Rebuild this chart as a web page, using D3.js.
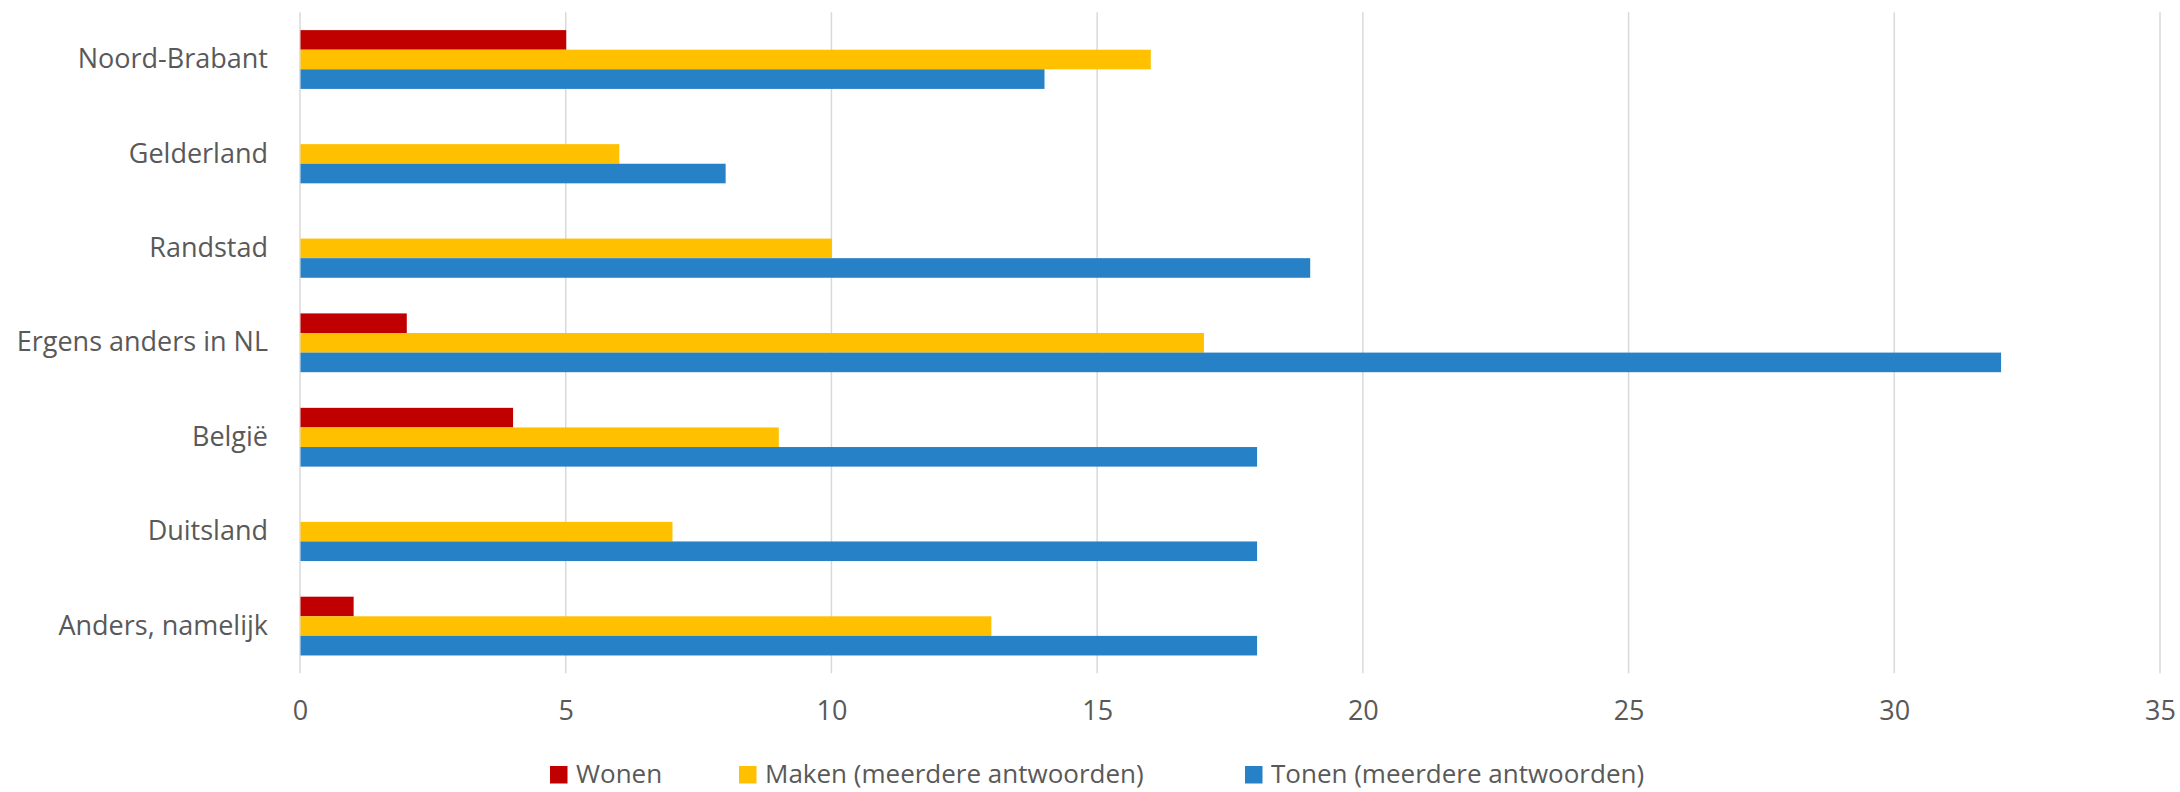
<!DOCTYPE html>
<html><head><meta charset="utf-8">
<script src="https://cdn.jsdelivr.net/npm/d3@7"></script>
<style>body{margin:0;background:#fff}svg{display:block}</style>
</head><body>
<svg id="c" width="2180" height="792"></svg>
<script>
const categories = ["Noord-Brabant","Gelderland","Randstad","Ergens anders in NL","België","Duitsland","Anders, namelijk"];
const wonen = [5,0,0,2,4,0,1];
const maken = [16,6,10,17,9,7,13];
const tonen = [14,8,19,32,18,18,18];
const seriesNames = ["Wonen","Maken (meerdere antwoorden)","Tonen (meerdere antwoorden)"];
const xTicks = [0,5,10,15,20,25,30,35];

const colors = ["#C00000","#FFC000","#2781C6"];
const seriesData = [wonen, maken, tonen];
const svg = d3.select("#c");
const font = "'Open Sans', sans-serif";
const textColor = "#595959";
const fs = 27;
const L = 300, R = 2160, T = 12.3, B = 673.3;

const x = d3.scaleLinear().domain([0,35]).range([L,R]);
const y = d3.scaleBand().domain(categories).range([T,B]);
const inner = d3.scaleBand().domain(d3.range(3)).range([0, y.bandwidth()*0.6225]);
const groupOff = (y.bandwidth() - y.bandwidth()*0.6225)/2;

// gridlines
svg.append("g").selectAll("line").data(xTicks).join("line")
  .attr("x1", d=>x(d)).attr("x2", d=>x(d)).attr("y1", T).attr("y2", B)
  .attr("stroke", "#d9d9d9").attr("stroke-width", 1.5);

// bars
categories.forEach((c,i)=>{
  svg.append("g").selectAll("rect").data(seriesData.map((s,k)=>({k, v:s[i]})).filter(d=>d.v>0)).join("rect")
    .attr("x", x(0)+0.5)
    .attr("y", d=> y(c)+groupOff+inner(d.k))
    .attr("width", d=> x(d.v)-x(0))
    .attr("height", inner.bandwidth())
    .attr("fill", d=>colors[d.k]);
});

// x axis labels
const xAxis = d3.axisBottom(x).tickValues(xTicks).tickSize(0).tickPadding(0);
const gx = svg.append("g").attr("transform", `translate(0,${B})`).call(xAxis);
gx.select(".domain").remove();
gx.selectAll("text").attr("font-family", font).attr("font-size", fs).attr("fill", textColor)
  .attr("dy", null).attr("y", 47);

// y axis labels
const yAxis = d3.axisLeft(y).tickSize(0).tickPadding(32);
const gy = svg.append("g").attr("transform", `translate(${L},0)`).call(yAxis);
gy.select(".domain").remove();
gy.selectAll("text").attr("font-family", font).attr("font-size", fs).attr("fill", textColor);

// legend
const legX = [550, 739, 1245];
const leg = svg.append("g");
seriesNames.forEach((n,k)=>{
  leg.append("rect").attr("x", legX[k]).attr("y", 766).attr("width", 17.5).attr("height", 17.5).attr("fill", colors[k]);
  leg.append("text").attr("x", legX[k]+26).attr("y", 783)
    .attr("font-family", font).attr("font-size", 26).attr("fill", textColor).text(n);
});
</script>
</body></html>
